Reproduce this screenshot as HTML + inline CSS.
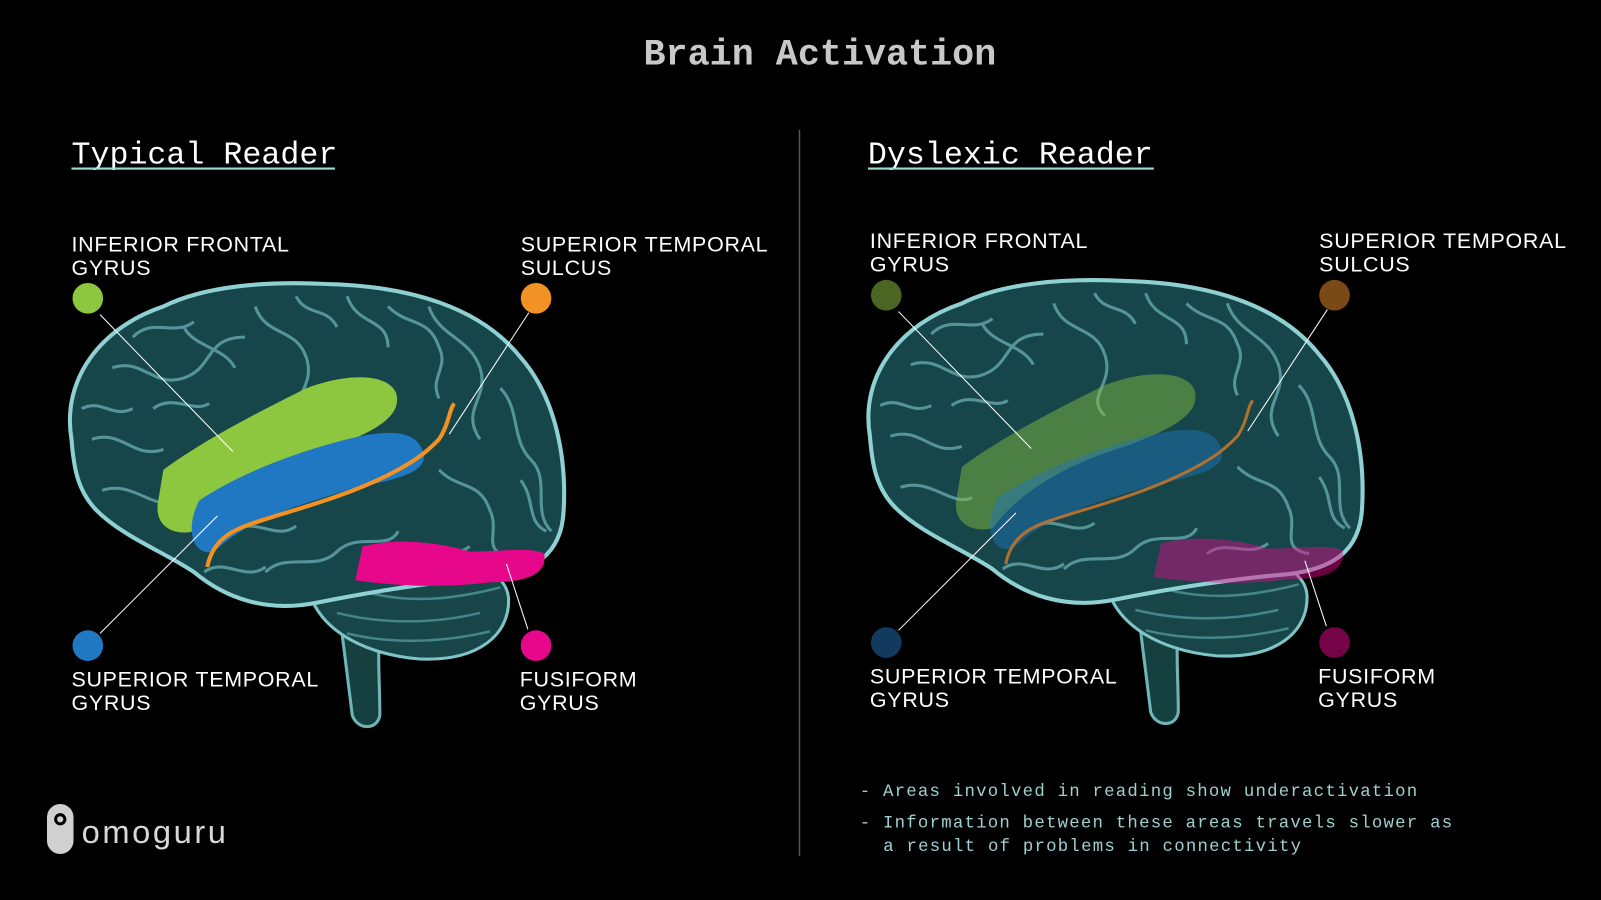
<!DOCTYPE html>
<html><head><meta charset="utf-8"><style>
html,body{margin:0;padding:0;background:#000;}
svg{display:block;}
.lbl{font-family:"Liberation Sans",sans-serif;font-size:21px;fill:#fff;letter-spacing:0.7px;}
.mono{font-family:"Liberation Mono",monospace;}
</style></head><body>
<svg width="1601" height="900" viewBox="0 0 1568 881" preserveAspectRatio="none" xmlns="http://www.w3.org/2000/svg">
<defs>
<g id="brain">
  <path d="M330 580 C335 620 340 660 345 700 C350 715 370 715 372 700 C372 660 368 630 375 600 Z" fill="#15403f" stroke="#6fb5b8" stroke-width="3"/>
  <path d="M300 560 C300 610 350 640 410 645 C470 648 500 620 498 585 C495 555 450 545 400 550 Z" fill="#174548" stroke="#7fc4c6" stroke-width="3"/>
  <g fill="none" stroke="#4f9598" stroke-width="2.5" opacity="0.8">
    <path d="M330 600 C370 610 420 612 470 600"/><path d="M340 620 C380 630 430 630 480 618"/><path d="M360 580 C400 590 440 588 490 575"/>
  </g>
  <path d="M70 430 C60 370 100 320 160 300 C200 280 260 275 320 278 C400 280 470 300 510 350 C545 390 555 450 552 500 C550 545 520 560 480 565 C420 570 360 580 310 590 C260 600 220 585 190 560 C160 540 120 525 95 500 C75 480 72 455 70 430 Z" fill="#17464a" stroke="#8fd0d2" stroke-width="4"/>
  <g fill="none" stroke="#6aafb2" stroke-width="3" opacity="0.75">
    <path d="M110 360 C140 350 150 380 180 370 C210 360 200 330 240 330"/>
    <path d="M250 300 C260 330 290 320 300 350 C310 380 280 390 300 410"/>
    <path d="M340 290 C350 320 380 310 380 340"/>
    <path d="M420 300 C430 330 460 330 470 360 C480 390 450 400 470 430"/>
    <path d="M490 380 C510 400 500 430 520 450 C540 470 520 500 540 520"/>
    <path d="M90 430 C120 420 130 450 160 440"/>
    <path d="M100 480 C130 470 150 500 170 490"/>
    <path d="M430 460 C450 480 470 470 480 500 C490 520 470 540 500 545"/>
    <path d="M260 560 C280 540 310 560 330 540 C350 520 380 540 390 520"/>
    <path d="M180 320 C190 340 220 340 230 360"/>
    <path d="M230 520 C250 505 270 530 290 515"/>
    <path d="M130 330 C150 310 170 330 190 315"/>
    <path d="M290 290 C300 310 320 300 330 320"/>
    <path d="M380 300 C400 320 420 310 430 340 C440 360 420 370 430 390"/>
    <path d="M80 400 C100 390 110 410 130 400"/>
    <path d="M510 470 C525 490 515 510 535 520"/>
    <path d="M200 560 C220 545 240 570 260 555"/>
    <path d="M400 545 C420 530 440 550 460 535"/>
    <path d="M150 400 C170 385 190 405 205 395"/>
  </g>
</g>
</defs>

<rect width="1568" height="881" fill="#000"/>
<text x="803" y="63" text-anchor="middle" class="mono" font-size="36" font-weight="bold" fill="#c8c8c8">Brain Activation</text>
<line x1="783" y1="127" x2="783" y2="838" stroke="#555" stroke-width="1.5"/>

<text x="70" y="160" class="mono" font-size="31" fill="#fff">Typical Reader</text>
<line x1="70" y1="165" x2="328" y2="165" stroke="#9fdcdc" stroke-width="2"/>
<text x="850" y="160" class="mono" font-size="31" fill="#fff">Dyslexic Reader</text>
<line x1="850" y1="165" x2="1130" y2="165" stroke="#9fdcdc" stroke-width="2"/>

<use href="#brain"/>
<path d="M160 460 C200 430 260 400 300 380 C340 365 380 365 388 385 C395 410 360 425 320 440 C270 455 220 480 190 520 C170 525 150 515 155 490 Z" fill="#8dc63f"/>
<path d="M195 490 C240 460 300 440 340 430 C380 420 410 420 415 445 C418 465 380 470 340 480 C290 495 240 510 210 540 C190 545 180 520 195 490 Z" fill="#1f78c1"/>
<path d="M355 535 C380 528 420 528 460 540 C490 540 520 535 533 542 C536 560 520 570 480 570 C440 575 400 575 348 568 Z" fill="#e6078b"/>
<path d="M203 555 C210 520 240 515 270 505 C320 490 350 480 380 465 C410 450 420 440 430 430 C440 415 440 400 445 395" fill="none" stroke="#f39224" stroke-width="4"/>
<g stroke="#fff" stroke-width="1"><line x1="98" y1="308" x2="228" y2="442"/><line x1="518" y1="306" x2="440" y2="425"/><line x1="98" y1="620" x2="213" y2="505"/><line x1="517" y1="616" x2="496" y2="552"/></g>
<circle cx="86" cy="292" r="15" fill="#8dc63f"/><circle cx="525" cy="292" r="15" fill="#f39224"/>
<circle cx="86" cy="632" r="15" fill="#1f78c1"/><circle cx="525" cy="632" r="15" fill="#e6078b"/>
<text class="lbl" x="70" y="246">INFERIOR FRONTAL</text><text class="lbl" x="70" y="269">GYRUS</text>
<text class="lbl" x="510" y="246">SUPERIOR TEMPORAL</text><text class="lbl" x="510" y="269">SULCUS</text>
<text class="lbl" x="70" y="672">SUPERIOR TEMPORAL</text><text class="lbl" x="70" y="695">GYRUS</text>
<text class="lbl" x="509" y="672">FUSIFORM</text><text class="lbl" x="509" y="695">GYRUS</text>

<g transform="translate(782,-3)">
<use href="#brain"/>
<path d="M160 460 C200 430 260 400 300 380 C340 365 380 365 388 385 C395 410 360 425 320 440 C270 455 220 480 190 520 C170 525 150 515 155 490 Z" fill="#8dc63f" opacity="0.45"/>
<path d="M195 490 C240 460 300 440 340 430 C380 420 410 420 415 445 C418 465 380 470 340 480 C290 495 240 510 210 540 C190 545 180 520 195 490 Z" fill="#1f78c1" opacity="0.45"/>
<path d="M355 535 C380 528 420 528 460 540 C490 540 520 535 533 542 C536 560 520 570 480 570 C440 575 400 575 348 568 Z" fill="#e6078b" opacity="0.45"/>
<path d="M203 555 C210 520 240 515 270 505 C320 490 350 480 380 465 C410 450 420 440 430 430 C440 415 440 400 445 395" fill="none" stroke="#b07030" stroke-width="3"/>
<g stroke="#fff" stroke-width="1"><line x1="98" y1="308" x2="228" y2="442"/><line x1="518" y1="306" x2="440" y2="425"/><line x1="98" y1="620" x2="213" y2="505"/><line x1="517" y1="616" x2="496" y2="552"/></g>
<circle cx="86" cy="292" r="15" fill="#4b6523"/><circle cx="525" cy="292" r="15" fill="#7a4a16"/>
<circle cx="86" cy="632" r="15" fill="#113a5e"/><circle cx="525" cy="632" r="15" fill="#740447"/>
<text class="lbl" x="70" y="246">INFERIOR FRONTAL</text><text class="lbl" x="70" y="269">GYRUS</text>
<text class="lbl" x="510" y="246">SUPERIOR TEMPORAL</text><text class="lbl" x="510" y="269">SULCUS</text>
<text class="lbl" x="70" y="672">SUPERIOR TEMPORAL</text><text class="lbl" x="70" y="695">GYRUS</text>
<text class="lbl" x="509" y="672">FUSIFORM</text><text class="lbl" x="509" y="695">GYRUS</text>
</g>

<g class="mono" font-size="17" fill="#9fcfcf" letter-spacing="1.2">
<text x="842" y="779">- Areas involved in reading show underactivation</text>
<text x="842" y="810">- Information between these areas travels slower as</text>
<text x="865" y="833">a result of problems in connectivity</text>
</g>

<rect x="46" y="787" width="26" height="49" rx="13" fill="#d0d0d0"/>
<circle cx="59" cy="802" r="6" fill="#000"/><circle cx="59" cy="802" r="3" fill="#d0d0d0"/>
<text x="80" y="825" font-family="Liberation Sans,sans-serif" font-size="32" fill="#d8d8d8" letter-spacing="2.5">omoguru</text>
</svg>
</body></html>
